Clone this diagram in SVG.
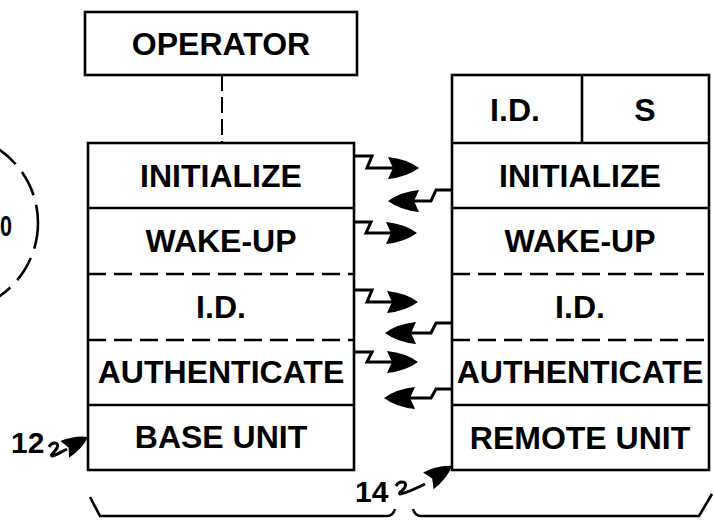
<svg xmlns="http://www.w3.org/2000/svg" xmlns:xlink="http://www.w3.org/1999/xlink" width="714" height="521" viewBox="0 0 714 521">
<style>
.bx{fill:#fff;stroke:#000;stroke-width:2.6}
.ln{fill:none;stroke:#000;stroke-width:2.6}
.ds{fill:none;stroke:#000;stroke-width:2.6;stroke-dasharray:18 8}
.t{font-family:"Liberation Sans",Arial,sans-serif;font-weight:bold;font-size:32px;fill:#000;text-anchor:middle}
.n{font-family:"Liberation Sans",Arial,sans-serif;font-weight:bold;font-size:30px;fill:#000}
.ar{fill:none;stroke:#000;stroke-width:3;stroke-linejoin:miter}
</style>
<defs>
<path id="hd" d="M0,0 Q-12,-9 -31,-11 L-26,0 L-31,11 Q-12,9 0,0Z" fill="#000"/>
</defs>
<rect width="714" height="521" fill="#fff"/>

<g id="circle-10">
<circle cx="-51" cy="223" r="89" fill="none" stroke="#000" stroke-width="2.6" stroke-dasharray="26 10"/>
<text class="n" x="0" y="236" font-size="35" textLength="12" lengthAdjust="spacingAndGlyphs">0</text>
</g>

<g id="operator">
<rect class="bx" x="85" y="12" width="272" height="63"/>
<text class="t" x="221" y="55">OPERATOR</text>
</g>

<g id="base-unit">
<rect class="bx" x="88" y="143" width="266" height="327"/>
<line class="ln" x1="88" y1="208" x2="354" y2="208"/>
<line class="ds" x1="88" y1="274" x2="354" y2="274"/>
<line class="ds" x1="88" y1="340" x2="354" y2="340"/>
<line class="ln" x1="88" y1="405" x2="354" y2="405"/>
<text class="t" x="221" y="187">INITIALIZE</text>
<text class="t" x="221" y="252">WAKE-UP</text>
<text class="t" x="221" y="318">I.D.</text>
<text class="t" x="221" y="383">AUTHENTICATE</text>
<text class="t" x="221" y="448">BASE UNIT</text>
</g>

<g id="remote-unit">
<rect class="bx" x="452" y="75" width="257" height="395"/>
<line class="ln" x1="582" y1="75" x2="582" y2="143"/>
<line class="ln" x1="452" y1="143" x2="709" y2="143"/>
<line class="ln" x1="452" y1="208" x2="709" y2="208"/>
<line class="ds" x1="452" y1="274" x2="709" y2="274"/>
<line class="ds" x1="452" y1="340" x2="709" y2="340"/>
<line class="ln" x1="452" y1="405" x2="709" y2="405"/>
<text class="t" x="515" y="121">I.D.</text>
<text class="t" x="645" y="121">S</text>
<text class="t" x="580" y="187">INITIALIZE</text>
<text class="t" x="580" y="252">WAKE-UP</text>
<text class="t" x="580" y="318">I.D.</text>
<text class="t" x="580" y="383">AUTHENTICATE</text>
<text class="t" x="580" y="449">REMOTE UNIT</text>
</g>

<g id="label-12">
<text class="n" x="11" y="453">12</text>
<path class="ar" stroke-width="2.6" d="M49,447 C52,441 60,442 57,448 C55,452 50,455 52,456 C57,455 61,452 67,449"/>
<use xlink:href="#hd" transform="translate(88,437) rotate(-28) scale(0.85)"/>
</g>

<g id="label-14">
<text class="n" x="355" y="502">14</text>
<path class="ar" stroke-width="2.6" d="M396,486 C399,480 408,481 405,487 C403,491 398,493 400,494 C406,493 415,489 425,484"/>
<use xlink:href="#hd" transform="translate(452,466) rotate(-32) scale(0.9)"/>
</g>

<g id="brace">
<path class="ln" d="M90,497 L100,516 H387 Q393,516 395,509"/>
<path class="ln" d="M413,509 Q415,516 421,516 H699 L712,494"/>
</g>

<g id="connectors">
<line x1="222" y1="75" x2="222" y2="143" stroke="#000" stroke-width="2" stroke-dasharray="16 6"/>
<path class="ar" d="M354,156 H372 L367,168 H393"/>
<use xlink:href="#hd" transform="translate(419,168)"/>
<path class="ar" d="M452,190 H436 L431,201 H413"/>
<use xlink:href="#hd" transform="translate(388,201) rotate(180)"/>
<path class="ar" d="M354,222 H371 L366,233 H391"/>
<use xlink:href="#hd" transform="translate(417,233)"/>
<path class="ar" d="M354,290 H372 L367,302 H392"/>
<use xlink:href="#hd" transform="translate(418,302)"/>
<path class="ar" d="M452,323 H436 L431,333 H410"/>
<use xlink:href="#hd" transform="translate(385,333) rotate(180)"/>
<path class="ar" d="M354,352 H372 L367,362 H392"/>
<use xlink:href="#hd" transform="translate(418,362)"/>
<path class="ar" d="M452,389 H436 L431,398 H409"/>
<use xlink:href="#hd" transform="translate(384,398) rotate(180)"/>
</g>
</svg>
